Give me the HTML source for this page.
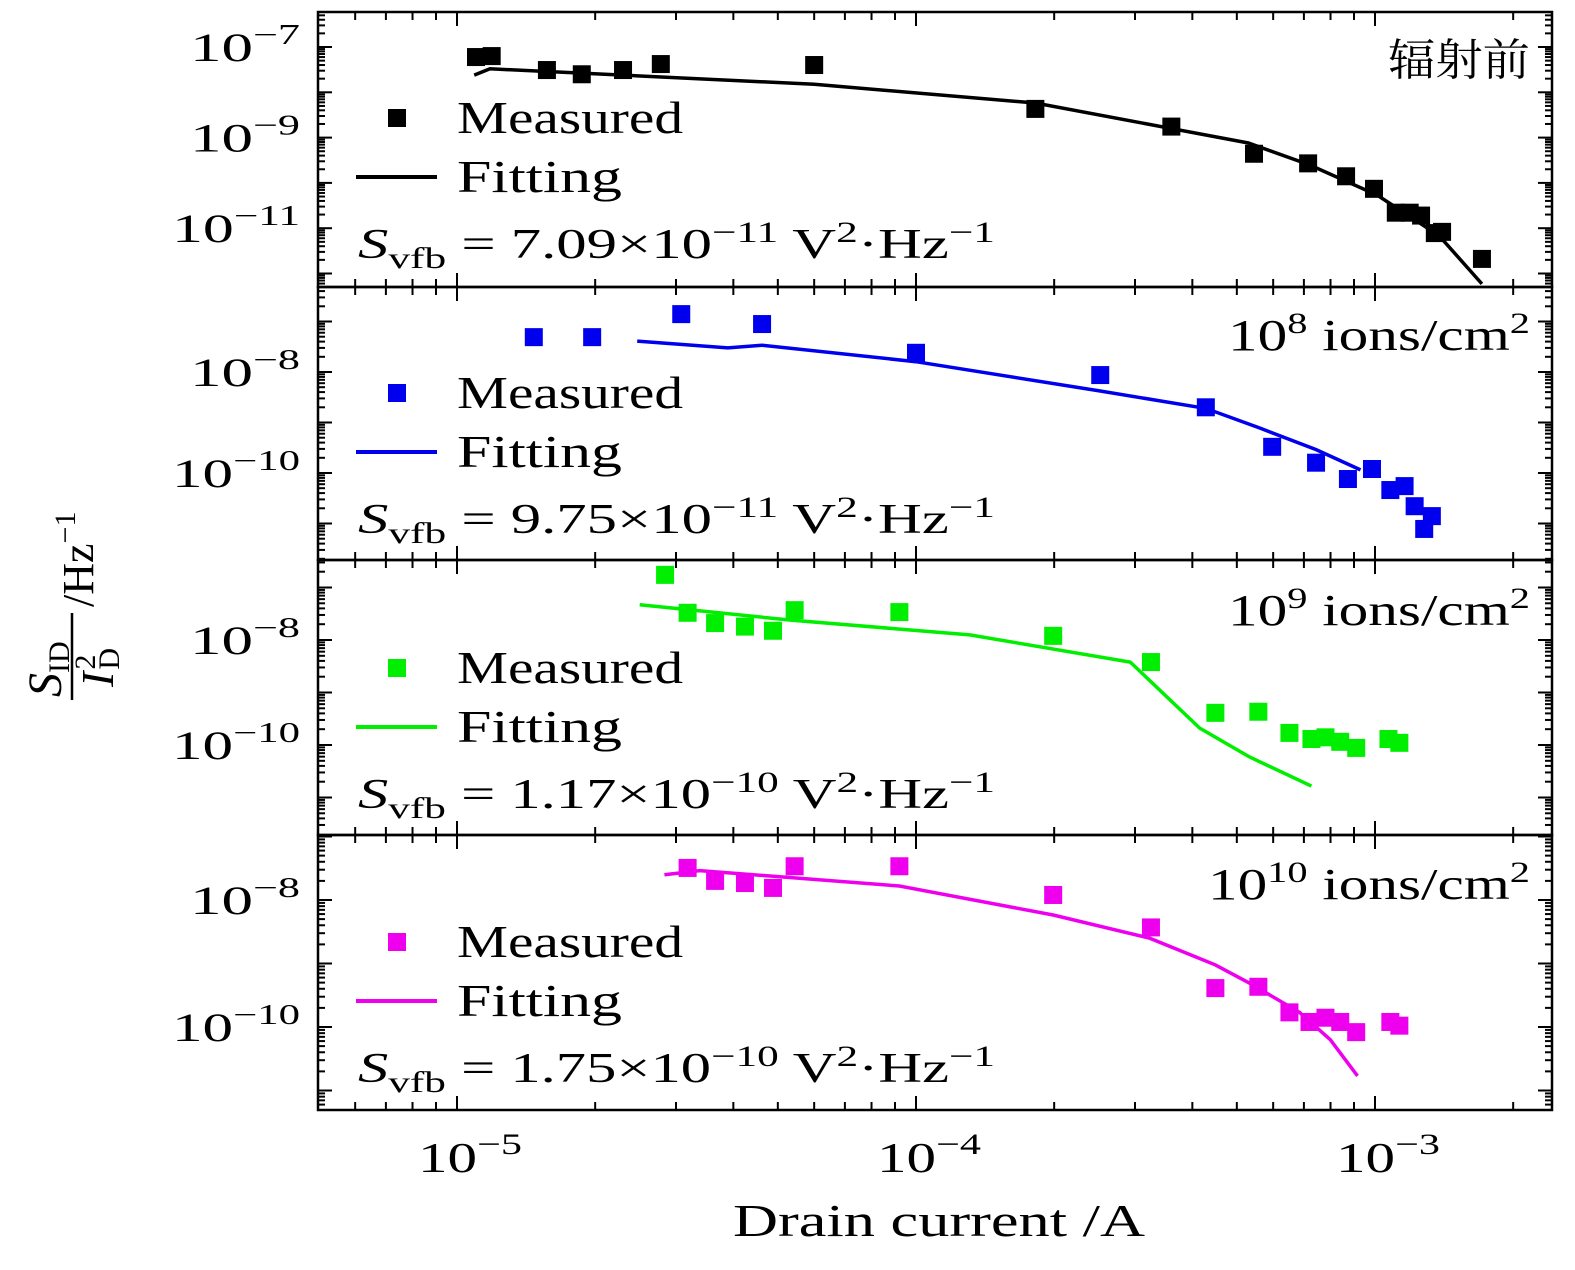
<!DOCTYPE html>
<html><head><meta charset="utf-8"><style>
html,body{margin:0;padding:0;background:#fff}
svg{display:block;font-family:"Liberation Serif","Noto Serif CJK SC",serif}
</style></head><body>
<svg id="chart" width="1575" height="1270" viewBox="0 0 1575 1270" xmlns="http://www.w3.org/2000/svg"></svg>
<script>
const p1MeasX=[1.10e-5,1.19e-5,1.57e-5,1.87e-5,2.30e-5,2.78e-5,6.0e-5,1.82e-4,3.6e-4,5.45e-4,7.15e-4,8.65e-4,9.95e-4,1.11e-3,1.19e-3,1.26e-3,1.35e-3,1.40e-3,1.71e-3];
const p1MeasY=[6.0e-8,6.3e-8,3.1e-8,2.5e-8,3.1e-8,4.2e-8,4.0e-8,4.3e-9,1.75e-9,4.4e-10,2.7e-10,1.4e-10,7.4e-11,2.2e-11,2.2e-11,1.9e-11,7.8e-12,8.3e-12,2.1e-12];
const p1FitX=[1.09e-5,1.18e-5,6.0e-5,1.82e-4,5.3e-4,7.2e-4,1.01e-3,1.38e-3,1.71e-3];
const p1FitY=[2.4e-8,3.3e-8,1.5e-8,5.8e-9,7.6e-10,2.5e-10,5.4e-11,6.8e-12,5.9e-13];
const p2MeasX=[1.47e-5,1.97e-5,3.08e-5,4.62e-5,1.0e-4,2.52e-4,4.28e-4,5.97e-4,7.44e-4,8.73e-4,9.85e-4,1.08e-3,1.16e-3,1.22e-3,1.28e-3,1.33e-3];
const p2MeasY=[4.9e-8,4.9e-8,1.4e-7,8.9e-8,2.4e-8,8.7e-9,2.0e-9,3.3e-10,1.6e-10,7.6e-11,1.2e-10,4.6e-11,5.5e-11,2.2e-11,7.8e-12,1.4e-11];
const p2FitX=[2.47e-5,3.89e-5,4.62e-5,1e-4,2.52e-4,4.28e-4,5.6e-4,7.44e-4,9.3e-4];
const p2FitY=[4.1e-8,3.0e-8,3.4e-8,1.6e-8,4.2e-9,1.9e-9,7.8e-10,2.9e-10,1.15e-10];
const p3MeasX=[2.84e-5,3.18e-5,3.65e-5,4.24e-5,4.88e-5,5.44e-5,9.2e-5,1.99e-4,3.25e-4,4.49e-4,5.57e-4,6.51e-4,7.27e-4,7.8e-4,8.4e-4,9.1e-4,1.07e-3,1.13e-3];
const p3MeasY=[1.74e-7,3.3e-8,2.1e-8,1.8e-8,1.5e-8,3.7e-8,3.4e-8,1.2e-8,3.8e-9,4.1e-10,4.3e-10,1.7e-10,1.3e-10,1.4e-10,1.15e-10,8.8e-11,1.3e-10,1.1e-10];
const p3FitX=[2.5e-5,5.3e-5,1.31e-4,2.93e-4,4.15e-4,5.33e-4,7.27e-4];
const p3FitY=[4.7e-8,2.4e-8,1.25e-8,3.8e-9,2.1e-10,5.9e-11,1.65e-11];
const p4MeasX=[3.18e-5,3.65e-5,4.24e-5,4.88e-5,5.44e-5,9.2e-5,1.99e-4,3.25e-4,4.49e-4,5.57e-4,6.51e-4,7.2e-4,7.8e-4,8.4e-4,9.1e-4,1.08e-3,1.13e-3];
const p4MeasY=[3.2e-8,2.0e-8,1.85e-8,1.55e-8,3.4e-8,3.4e-8,1.2e-8,3.7e-9,4.1e-10,4.3e-10,1.7e-10,1.2e-10,1.4e-10,1.2e-10,8.3e-11,1.2e-10,1.05e-10];
const p4FitX=[2.83e-5,3.38e-5,9.2e-5,1.99e-4,3.23e-4,4.49e-4,5.33e-4,6.85e-4,7.99e-4,9.16e-4];
const p4FitY=[2.5e-8,2.9e-8,1.66e-8,5.8e-9,2.5e-9,9.5e-10,4.9e-10,1.7e-10,6.3e-11,1.7e-11];
const xTickExps=[-5,-4,-3];
const panelLabels=["辐射前","10^8 ions/cm2","10^9 ions/cm2","10^10 ions/cm2"];
const svfbMant=["7.09","9.75","1.17","1.75"];
const svfbExp=["−11","−11","−10","−10"];
const yLabelExps=[[-7,-9,-11],[-8,-10],[-8,-10],[-8,-10]];

const NS="http://www.w3.org/2000/svg";
const svg=document.getElementById('chart');
function el(tag,attrs,parent){const e=document.createElementNS(NS,tag);for(const k in attrs)e.setAttribute(k,attrs[k]);(parent||svg).appendChild(e);return e;}
const L=318,R=1552;
const xs=v=>457+(Math.log10(v)+5)*459;
const panels=[
 {top:12,bot:287,ref:-7,refY:47,dec:45.3,color:'#000',mx:p1MeasX,my:p1MeasY,fx:p1FitX,fy:p1FitY,leg:118},
 {top:287,bot:560,ref:-8,refY:372,dec:50.5,color:'#0000ee',mx:p2MeasX,my:p2MeasY,fx:p2FitX,fy:p2FitY,leg:393},
 {top:560,bot:835,ref:-8,refY:640,dec:52.5,color:'#00ee00',mx:p3MeasX,my:p3MeasY,fx:p3FitX,fy:p3FitY,leg:668},
 {top:835,bot:1110,ref:-8,refY:900,dec:63.5,color:'#ee00ee',mx:p4MeasX,my:p4MeasY,fx:p4FitX,fy:p4FitY,leg:942}];
const names=['pre-irradiation','1e8','1e9','1e10'];
panels.forEach((p,i)=>{
 const g=el('g',{});
 
 
 const ys=v=>p.refY-(Math.log10(v)-p.ref)*p.dec;
 const cid='clip'+i;
 const cp=el('clipPath',{id:cid},g);el('rect',{x:L,y:p.top,width:R-L,height:p.bot-p.top},cp);
 const lo=Math.floor(p.ref-(p.bot-p.refY)/p.dec)-1, hi=Math.ceil(p.ref+(p.refY-p.top)/p.dec)+1;
 for(let e=lo;e<=hi;e++){for(let m=1;m<10;m++){const y=ys(m*Math.pow(10,e));if(y<p.top+1||y>p.bot-1)continue;const len=m==1?14:7;
  el('line',{x1:L,x2:L+len,y1:y,y2:y,stroke:'#000','stroke-width':2},g);el('line',{x1:R,x2:R-len,y1:y,y2:y,stroke:'#000','stroke-width':2},g);}}
 for(let e=-6;e<=-2;e++){for(let m=1;m<10;m++){const x=xs(m*Math.pow(10,e));if(x<L+1||x>R-1)continue;const len=m==1?14:8;
  el('line',{x1:x,x2:x,y1:p.bot,y2:p.bot-len,stroke:'#000','stroke-width':2},g);el('line',{x1:x,x2:x,y1:p.top,y2:p.top+len,stroke:'#000','stroke-width':2},g);}}
 yLabelExps[i].forEach(ex=>{const t=el('text',{x:300,y:ys(Math.pow(10,ex))+14,'text-anchor':'end','font-size':40,textLength:ex<=-10?128:110,lengthAdjust:'spacingAndGlyphs'},g);
  
  t.innerHTML='10<tspan dy="-17" font-size="28">−'+(-ex)+'</tspan>';});
 const pts=p.fx.map((v,k)=>xs(v).toFixed(1)+','+ys(p.fy[k]).toFixed(1)).join(' ');
 const pl=el('polyline',{points:pts,fill:'none',stroke:p.color,'stroke-width':3.5,'clip-path':'url(#'+cid+')'},g);
 
 p.mx.forEach((v,k)=>{const r=el('rect',{x:xs(v)-9,y:ys(p.my[k])-9,width:18,height:18,fill:p.color},g);
  });
 el('rect',{x:L,y:p.top,width:R-L,height:p.bot-p.top,fill:'none',stroke:'#000','stroke-width':2.5},g);
 const lr=el('rect',{x:388,y:p.leg-9,width:18,height:18,fill:p.color},g);
 
 const lt=el('text',{x:457,y:p.leg+15,'font-size':46,textLength:226,lengthAdjust:'spacingAndGlyphs'},g);lt.textContent='Measured';
 
 const ll=el('line',{x1:356,x2:437,y1:p.leg+59,y2:p.leg+59,stroke:p.color,'stroke-width':4},g);
 
 const ft=el('text',{x:457,y:p.leg+74,'font-size':46,textLength:165,lengthAdjust:'spacingAndGlyphs'},g);ft.textContent='Fitting';
 
 const st=el('text',{x:358,y:p.leg+140,'font-size':42,textLength:637,lengthAdjust:'spacingAndGlyphs'},g);
 st.innerHTML='<tspan font-style="italic">S</tspan><tspan dy="10" font-size="30">vfb</tspan><tspan dy="-10"> = '+svfbMant[i]+'×10</tspan><tspan dy="-16" font-size="30">'+svfbExp[i]+'</tspan><tspan dy="16"> V</tspan><tspan dy="-16" font-size="30">2</tspan><tspan dy="16">·Hz</tspan><tspan dy="-16" font-size="30">−1</tspan>';
 
 const tl=[142,302,302,322][i];
 const at=el('text',{x:1530-tl,y:p.leg-43,'font-size':44,textLength:tl,lengthAdjust:'spacingAndGlyphs'},g);
 if(i==0){at.textContent=panelLabels[0];at.setAttribute('font-family','"Noto Serif CJK SC","Noto Sans CJK SC",serif');}
 else{const pw=panelLabels[i].split(' ')[0].slice(3);at.innerHTML='10<tspan dy="-17" font-size="30">'+pw+'</tspan><tspan dy="17"> ions/cm</tspan><tspan dy="-17" font-size="30">2</tspan>';}
 
});
xTickExps.forEach(e=>{const t=el('text',{x:xs(Math.pow(10,e))-39,y:1172,'font-size':42,textLength:104,lengthAdjust:'spacingAndGlyphs'});
 
 t.innerHTML='10<tspan dy="-18" font-size="30">−'+(-e)+'</tspan>';});
const xt=el('text',{x:733,y:1236,'font-size':46,textLength:412,lengthAdjust:'spacingAndGlyphs'});xt.textContent='Drain current /A';

const yt=el('g',{transform:'translate(75,575) rotate(-90)'});

const a=el('text',{x:-122,y:-14,'font-size':48},yt);a.innerHTML='<tspan font-style="italic">S</tspan><tspan dy="8" font-size="30">ID</tspan>';
el('line',{x1:-125,x2:-38,y1:-3,y2:-3,stroke:'#000','stroke-width':2.5},yt);
const b=el('text',{x:-112,y:38,'font-size':46},yt);b.innerHTML='<tspan font-style="italic">I</tspan><tspan dy="-18" dx="2" font-size="30">2</tspan><tspan dy="24" dx="-15" font-size="30">D</tspan>';
const c=el('text',{x:-32,y:18,'font-size':44},yt);c.innerHTML='/Hz<tspan dy="-18" font-size="30">−1</tspan>';
</script>
</body></html>
